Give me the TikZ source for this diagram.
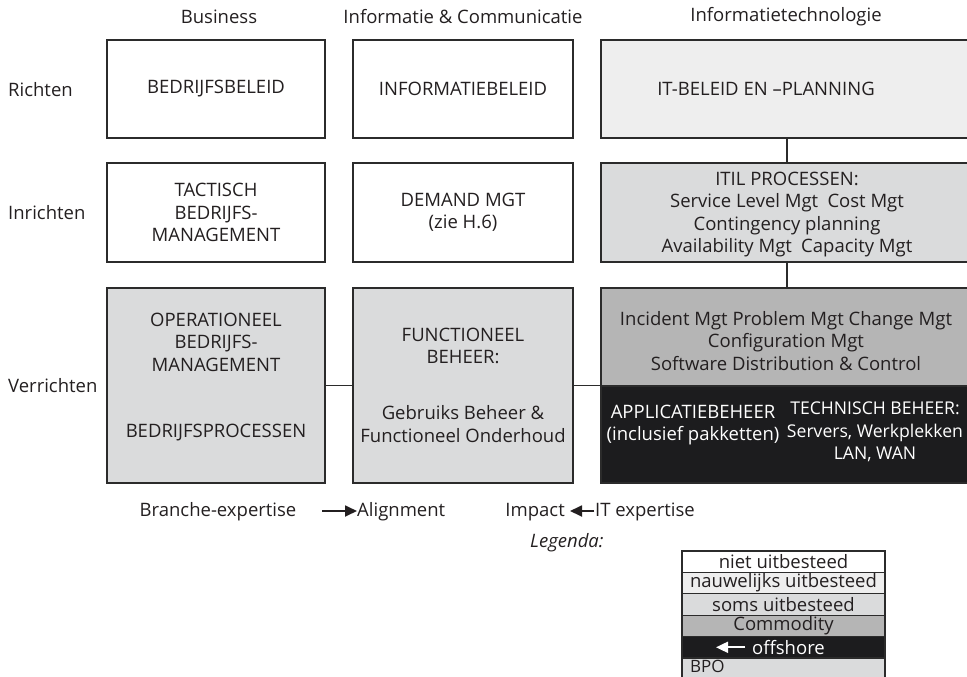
\documentclass[tikz,border=0pt]{standalone}
\usepackage{fontspec}
\setmainfont{Open Sans}
\usetikzlibrary{arrows.meta}
\definecolor{ink}{HTML}{231F20}
\definecolor{edge}{HTML}{2B2B2B}
\definecolor{palegray}{HTML}{EEEEEE}
\definecolor{lightgray}{HTML}{DADBDC}
\definecolor{midgray}{HTML}{B5B5B5}
\definecolor{nearblack}{HTML}{1C1C1E}

\begin{document}
\begin{tikzpicture}[x=1pt,y=-1pt,
  box/.style={draw=edge, line width=1.6pt, anchor=north west, inner sep=0pt, outer sep=0pt},
  txt/.style={text=ink, font=\fontsize{18.5}{22.5}\selectfont, align=center, inner sep=0pt},
  link/.style={draw=edge, line width=1.4pt},
  legrow/.style={draw=edge, line width=1.3pt, anchor=north west, inner sep=0pt, outer sep=0pt,
    minimum width=203pt, minimum height=21.4pt, text=ink,
    font=\fontsize{18.5}{20}\selectfont},
  pointer/.style={line width=1.8pt, -{Triangle[length=12pt,width=11pt]}},
]
\useasboundingbox (0,0) rectangle (967,677);
\clip (0,0) rectangle (967,677);

% column headings
\node[txt] (hbus) at (219,17) {Business};
\node[txt] (hinf) at (463,17) {Informatie \& Communicatie};
\node[txt] (hit)  at (786,17) {Informatietechnologie};

% row headings
\node[txt, anchor=west] (rrich) at (8,90)  {Richten};
\node[txt, anchor=west] (rinr)  at (8,213) {Inrichten};
\node[txt, anchor=west] (rverr) at (8,386) {Verrichten};

% row 1: richten
\node[box, fill=white, minimum width=218pt, minimum height=98pt] (b11) at (107,40) {};
\node[box, fill=white, minimum width=220pt, minimum height=98pt] (b12) at (353,40) {};
\node[box, fill=palegray, minimum width=372pt, minimum height=98pt] (b13) at (601,40) {};
\node[txt] (t11) at (b11.center) {BEDRIJFSBELEID};
\node[txt] (t12) at (b12.center) {INFORMATIEBELEID};
\node[txt] (t13) at (766,89) {IT-BELEID EN –PLANNING};

% row 2: inrichten
\node[box, fill=white, minimum width=218pt, minimum height=99pt] (b21) at (107,163) {};
\node[box, fill=white, minimum width=220pt, minimum height=99pt] (b22) at (353,163) {};
\node[box, fill=lightgray, minimum width=372pt, minimum height=99pt] (b23) at (601,163) {};
\node[txt] (t21) at (b21.center) {TACTISCH\\BEDRIJFS-\\MANAGEMENT};
\node[txt] (t22) at (b22.center) {DEMAND MGT\\(zie H.6)};
\node[txt] (t23) at ([yshift=-2pt]b23.center) {ITIL PROCESSEN:\\Service Level Mgt\enspace Cost Mgt\\Contingency planning\\Availability Mgt\enspace Capacity Mgt};

% row 3: verrichten
\node[box, fill=lightgray, minimum width=218pt, minimum height=195pt] (b31) at (107,288) {};
\node[box, fill=lightgray, minimum width=220pt, minimum height=195pt] (b32) at (353,288) {};
\node[box, fill=midgray, minimum width=372pt, minimum height=98pt] (b33) at (601,288) {};
\node[box, fill=nearblack, minimum width=372pt, minimum height=97pt] (b34) at (601,386) {};
\node[txt] (t31a) at (216,342) {OPERATIONEEL\\BEDRIJFS-\\MANAGEMENT};
\node[txt] (t31b) at (216,433) {BEDRIJFSPROCESSEN};
\node[txt] (t32a) at (463,346) {FUNCTIONEEL\\BEHEER:};
\node[txt] (t32b) at (463,424) {Gebruiks Beheer \&\\Functioneel Onderhoud};
\node[txt] (t33) at (786,341) {Incident Mgt Problem Mgt Change Mgt\\Configuration Mgt\\Software Distribution \& Control};
\node[txt, text=white] (t34a) at (693,425) {APPLICATIEBEHEER\\(inclusief pakketten)};
\node[txt, text=white, anchor=north, font=\fontsize{17.6}{22.5}\selectfont] (t34b) at (875,402) {TECHNISCH BEHEER:\\Servers, Werkplekken\\LAN, WAN};

% connectors
\draw[link] (b13.south) -- (b23.north);
\draw[link] (b23.south) -- (b33.north);
\draw[link] (b31.east) -- (b32.west);
\draw[link] (b32.east) -- (b32.east -| b34.west);

% bottom line with arrows
\node[txt] (branche) at (218,512) {Branche-expertise};
\node[txt, anchor=west] (align) at (357,512) {Alignment};
\coordinate (alstart) at (322,511);
\draw[pointer, draw=ink, fill=ink] (alstart) -- (alstart -| align.west);
\node[txt, anchor=east] (impact) at (565,512) {Impact};
\node[txt, anchor=west] (itexp) at (595,512) {IT expertise};
\coordinate (itstart) at (594,511);
\draw[pointer, draw=ink, fill=ink] (itstart) -- ([xshift=5pt]itstart -| impact.east);

% legend
\node[txt, anchor=west, font=\fontsize{18.5}{22.5}\selectfont\itshape] (legenda) at (530,543) {Legenda:};
\node[legrow, fill=white]     (l1) at (682,551)   {niet uitbesteed};
\node[legrow, fill=palegray]  (l2) at (682,572.4) {nauwelijks uitbesteed};
\node[legrow, fill=lightgray] (l3) at (682,593.8) {soms uitbesteed};
\node[legrow, fill=midgray]   (l4) at (682,615.2) {Commodity};
\node[legrow, fill=nearblack] (l5) at (682,636.6) {};
\node[legrow, fill=lightgray] (l6) at (682,658)   {};
\node[txt, text=white, anchor=west, font=\fontsize{18.5}{20}\selectfont] (offsh) at (752,647.3) {offshore};
\coordinate (offstart) at (745,647.3);
\draw[pointer, draw=white, fill=white] (offstart) -- (716,647.3);
\node[txt, anchor=west, font=\fontsize{17}{20}\selectfont] (bpo) at (690,666.5) {BPO};
\end{tikzpicture}
\end{document}
